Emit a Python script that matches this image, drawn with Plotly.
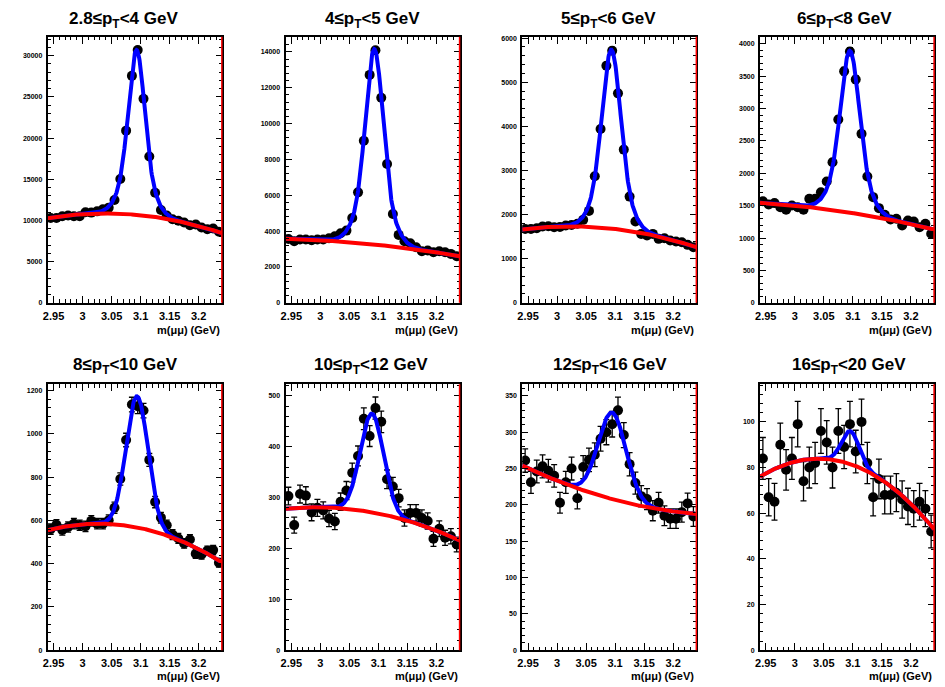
import numpy as np
import plotly.graph_objects as go

# ---------------- data ----------------
mass_centers = [2.945, 2.955, 2.965, 2.975, 2.985, 2.995, 3.005, 3.015, 3.025, 3.035,
                3.045, 3.055, 3.065, 3.075, 3.085, 3.095, 3.105, 3.115, 3.125, 3.135,
                3.145, 3.155, 3.165, 3.175, 3.185, 3.195, 3.205, 3.215, 3.225, 3.235]

mass_ticks = [2.95, 3.0, 3.05, 3.1, 3.15, 3.2]
mass_ticklabels = ["2.95", "3", "3.05", "3.1", "3.15", "3.2"]

pt_titles = ["2.8≤p<sub>T</sub>&lt;4 GeV", "4≤p<sub>T</sub>&lt;5 GeV",
             "5≤p<sub>T</sub>&lt;6 GeV", "6≤p<sub>T</sub>&lt;8 GeV",
             "8≤p<sub>T</sub>&lt;10 GeV", "10≤p<sub>T</sub>&lt;12 GeV",
             "12≤p<sub>T</sub>&lt;16 GeV", "16≤p<sub>T</sub>&lt;20 GeV"]

counts_pt_2p8_4 = [10300, 10300, 10500, 10600, 10500, 10500, 11000, 10950, 11100, 11350,
                   11550, 12470, 15040, 20900, 27550, 30680, 24780, 17760, 13350, 11270,
                   10600, 10150, 9950, 9750, 9420, 9500, 9140, 8940, 9020, 8620]
counts_pt_4_5 = [3565, 3435, 3530, 3530, 3490, 3530, 3530, 3600, 3710, 3880,
                 4030, 4735, 6165, 9045, 12720, 14095, 11440, 7745, 4960, 3790,
                 3435, 3325, 3100, 2880, 2915, 2820, 2880, 2820, 2730, 2600]
counts_pt_5_6 = [1675, 1675, 1690, 1730, 1735, 1713, 1720, 1750, 1766, 1790,
                 1880, 2083, 2868, 3940, 5373, 5713, 4747, 3472, 2407, 1841,
                 1562, 1524, 1562, 1449, 1464, 1411, 1389, 1373, 1313, 1260]
counts_pt_6_8 = [1570, 1519, 1540, 1477, 1436, 1503, 1477, 1436, 1606, 1606,
                 1709, 1874, 2172, 2831, 3578, 3881, 3449, 2610, 1951, 1632,
                 1462, 1359, 1287, 1297, 1194, 1272, 1256, 1169, 1220, 1066]
counts_pt_8_10 = [560, 580, 556, 570, 585, 578, 573, 598, 585, 585,
                  601, 659, 792, 972, 1136, 1128, 1108, 880, 685, 613,
                  578, 535, 517, 494, 512, 446, 443, 460, 463, 405]
counts_pt_10_12 = [303, 246, 307, 304, 271, 280, 275, 259, 253, 292,
                   314, 349, 382, 455, 421, 476, 449, 336, 322, 299,
                   260, 270, 270, 260, 254, 219, 239, 221, 224, 208]
counts_pt_12_16 = [261, 231, 246, 253, 247, 240, 203, 231, 250, 209,
                   252, 262, 269, 291, 300, 311, 330, 296, 256, 230,
                   212, 208, 192, 203, 185, 181, 181, 190, 202, 184]
counts_pt_16_20 = [84, 67, 65, 90, 79, 84, 99, 74, 80, 82,
                   96, 91, 80, 96, 89, 99, 87, 100, 82, 67,
                   75, 68, 68, 69, 66, 63, 62, 65, 62, 52]

all_counts = [counts_pt_2p8_4, counts_pt_4_5, counts_pt_5_6, counts_pt_6_8,
              counts_pt_8_10, counts_pt_10_12, counts_pt_12_16, counts_pt_16_20]

# fit parameters: background = b0 + b1*(m-3.09) + b2*(m-3.09)^2 ; signal = double gaussian
bkg_b0 = [10700, 3270, 1690, 1400, 570, 271, 209, 82]
bkg_b1 = [-6033, -3233, -1333, -1370, -493, -207, -222, -76.7]
bkg_b2 = [-59333, -8222, -10222, -2733, -3956, -1067, 522, -778]
sig_mean = [3.093, 3.093, 3.0935, 3.095, 3.094, 3.089, 3.095, 3.096]
sig_amp1 = [14000, 7600, 2850, 1700, 606, 194, 119, 14.4]
sig_width1 = [0.013, 0.014, 0.015, 0.015, 0.019, 0.020, 0.024, 0.015]
sig_amp2 = [6000, 3300, 1200, 800, 0, 0, 0, 0]
sig_width2 = [0.024, 0.026, 0.026, 0.027, 0.03, 0.03, 0.03, 0.03]

y_max = [32300, 14850, 6030, 4110, 1230, 523, 366, 116.5]
y_dtick = [5000, 2000, 1000, 500, 200, 100, 50, 20]

# ---------------- layout geometry (pixels) ----------------
W, H = 945, 687
panel_left_px = [43, 282, 520, 759, 43, 282, 520, 759]
panel_top_px = [35, 35, 35, 35, 385, 385, 385, 385]
panel_w, panel_h = 175, 268
title_center_px = [119, 369, 607, 844, 121, 368, 608, 848]
title_y_px = [18, 18, 18, 18, 367, 367, 367, 367]
xlabel_y_px = [330, 330, 330, 330, 679, 679, 679, 679]

FONT = "Liberation Sans, Arial, Helvetica, sans-serif"

fig = go.Figure()
annotations = []
shapes = []

for k in range(8):
    n = k + 1
    xa = "x" if n == 1 else f"x{n}"
    ya = "y" if n == 1 else f"y{n}"
    counts = np.array(all_counts[k], dtype=float)
    errs = np.sqrt(counts)

    fig.add_trace(go.Scatter(
        x=mass_centers, y=counts, mode="markers",
        marker=dict(color="black", size=10),
        error_y=dict(type="data", array=errs, color="black", thickness=1.3, width=3),
        xaxis=xa, yaxis=ya, showlegend=False, hoverinfo="skip"))

    m = np.linspace(2.94, 3.24, 401)
    d = m - 3.09
    bkg = bkg_b0[k] + bkg_b1[k] * d + bkg_b2[k] * d ** 2
    sig = (sig_amp1[k] * np.exp(-(m - sig_mean[k]) ** 2 / (2 * sig_width1[k] ** 2))
           + sig_amp2[k] * np.exp(-(m - sig_mean[k]) ** 2 / (2 * sig_width2[k] ** 2)))

    fig.add_trace(go.Scatter(x=m, y=bkg + sig, mode="lines",
                             line=dict(color="#0000ff", width=4),
                             xaxis=xa, yaxis=ya, showlegend=False, hoverinfo="skip"))
    fig.add_trace(go.Scatter(x=m, y=bkg, mode="lines",
                             line=dict(color="#ff0000", width=4),
                             xaxis=xa, yaxis=ya, showlegend=False, hoverinfo="skip"))

    l = panel_left_px[k]
    t = panel_top_px[k]
    xdom = [l / W, (l + panel_w) / W]
    ydom = [1 - (t + panel_h) / H, 1 - t / H]

    xkey = "xaxis" if n == 1 else f"xaxis{n}"
    ykey = "yaxis" if n == 1 else f"yaxis{n}"
    fig.update_layout(**{
        xkey: dict(domain=xdom, range=[2.94, 3.24], anchor=ya,
                   tickmode="array", tickvals=mass_ticks, ticktext=mass_ticklabels,
                   ticks="inside", ticklen=7, tickwidth=1, tickcolor="black",
                   showline=True, linecolor="black", linewidth=2, mirror="allticks",
                   showgrid=False, zeroline=False, ticklabelstandoff=2,
                   tickfont=dict(family=FONT, size=11, color="black", weight="bold"),
                   minor=dict(tickmode="linear", tick0=2.94, dtick=0.01, ticks="inside",
                              ticklen=3.5, tickcolor="black", showgrid=False)),
        ykey: dict(domain=ydom, range=[0, y_max[k]], anchor=xa,
                   tickmode="linear", tick0=0, dtick=y_dtick[k], tickformat="d",
                   ticks="inside", ticklen=6, tickwidth=1, tickcolor="black",
                   showline=True, linecolor="black", linewidth=2, mirror="allticks",
                   showgrid=False, zeroline=False, ticklabelstandoff=2,
                   tickfont=dict(family=FONT, size=7, color="black", weight="bold"),
                   minor=dict(tickmode="linear", tick0=0, dtick=y_dtick[k] / 5, ticks="inside",
                              ticklen=3, tickcolor="black", showgrid=False)),
    })

    # red right-hand frame edge
    shapes.append(dict(type="line", xref=f"{xa} domain", yref=f"{ya} domain",
                       x0=1, x1=1, y0=0, y1=1, line=dict(color="#ff0000", width=1.5)))

    annotations.append(dict(text=pt_titles[k], x=title_center_px[k] / W, y=1 - title_y_px[k] / H,
                            xref="paper", yref="paper", xanchor="center", yanchor="middle",
                            showarrow=False,
                            font=dict(family=FONT, size=17, color="black", weight="bold")))
    annotations.append(dict(text="m(μμ) (GeV)", x=(l + panel_w) / W, y=1 - xlabel_y_px[k] / H,
                            xref="paper", yref="paper", xanchor="right", yanchor="middle",
                            showarrow=False,
                            font=dict(family=FONT, size=11, color="black", weight="bold")))

fig.update_layout(width=W, height=H, margin=dict(l=0, r=0, t=0, b=0),
                  paper_bgcolor="white", plot_bgcolor="white",
                  annotations=annotations, shapes=shapes, showlegend=False)

fig.write_html("out.html")
